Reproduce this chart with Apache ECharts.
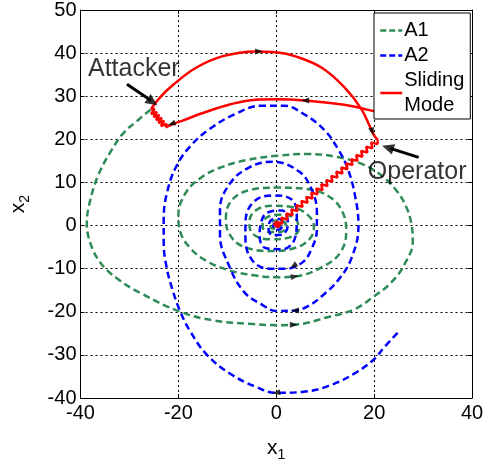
<!DOCTYPE html>
<html>
<head>
<meta charset="utf-8">
<script src="https://cdn.jsdelivr.net/npm/echarts/dist/echarts.min.js"></script>
<style>
  html, body { margin: 0; padding: 0; background: #ffffff; }
  #chart { width: 491px; height: 467px; }
</style>
</head>
<body>
<div id="chart"></div>
<script>
// Axis ranges: [min, max, step]
const X_RANGE = [-40, 40, 20];
const Y_RANGE = [-40, 50, 10];

// Phase trajectory under dynamics A1 (counter-clockwise spiral into the origin)
const a1Path = [
  [-25.7, 26.9], [-28.5, 24.2], [-31.1, 21.6], [-33.6, 17.6], [-36.4, 11.6], [-38.2, 5.0],
  [-38.7, 0.5], [-38.0, -4.0], [-36.0, -8.5], [-32.5, -12.3], [-27.5, -15.8], [-19.6, -20.0],
  [-12.9, -22.0], [-5.5, -22.8], [0.0, -23.1], [3.6, -23.0], [10.7, -21.2], [16.0, -19.4],
  [20.0, -16.4], [23.5, -13.2], [26.2, -9.0], [27.9, -3.7], [27.6, 0.5], [26.5, 4.5],
  [24.5, 8.2], [21.5, 11.6], [17.5, 14.3], [12.5, 15.9], [6.5, 16.6], [0.2, 16.2],
  [-6.0, 15.2], [-11.5, 13.4], [-15.5, 11.0], [-18.6, 7.4], [-20.0, 2.3], [-19.6, -1.5],
  [-17.6, -5.2], [-14.3, -8.2], [-9.6, -10.4], [-4.2, -11.6], [0.0, -12.0], [3.8, -11.8],
  [9.9, -9.3], [13.3, -5.9], [14.3, -1.0], [13.3, 3.7], [10.7, 6.8], [6.6, 8.4],
  [0.2, 8.8], [-5.5, 8.2], [-9.2, 5.7], [-10.3, 1.5], [-9.5, -2.1], [-6.9, -4.8],
  [-1.4, -5.9], [3.8, -5.2], [6.9, -3.0], [7.7, -0.3], [6.3, 2.6], [2.6, 4.4],
  [-0.8, 4.6], [-4.2, 3.5], [-5.5, 0.8], [-4.8, -1.9], [-1.4, -3.2], [2.6, -2.8],
  [4.6, -0.8], [3.6, 1.9], [0.2, 2.5], [-2.4, 1.5], [-2.8, -0.2], [-1.6, -1.5],
  [0.6, -1.5], [2.0, -0.4], [1.6, 0.9], [0.0, 1.2], [-1.2, 0.5], [-1.0, -0.6],
  [0.0, -0.7], [0.8, -0.1], [0.5, 0.5], [0.0, 0.4], [-0.3, 0.0], [0.0, -0.2]
];

// Phase trajectory under dynamics A2 (clockwise spiral into the origin)
const a2Path = [
  [24.8, -24.9], [22.0, -28.3], [20.0, -31.0], [16.0, -34.3], [10.7, -37.2], [5.3, -38.6],
  [0.0, -38.8], [-4.2, -37.4], [-9.5, -34.3], [-14.3, -29.8], [-17.6, -24.5], [-19.6, -20.0],
  [-21.2, -14.9], [-22.4, -9.7], [-23.0, -4.0], [-23.0, 1.5], [-22.2, 8.2], [-20.3, 14.0],
  [-17.5, 18.5], [-13.5, 22.5], [-8.5, 25.8], [-3.0, 27.8], [1.5, 27.8], [6.0, 25.6],
  [9.8, 22.2], [12.6, 17.8], [14.5, 13.5], [16.0, 7.5], [16.8, 0.0], [15.4, -7.5],
  [12.7, -12.6], [9.3, -16.4], [6.5, -18.7], [3.8, -19.7], [0.0, -19.8], [-3.0, -18.3],
  [-6.5, -15.5], [-9.5, -9.7], [-11.5, -2.1], [-11.5, 3.7], [-9.5, 9.7], [-5.5, 13.5],
  [-0.8, 14.8], [4.6, 12.6], [7.3, 8.2], [8.3, 3.0], [8.3, -0.8], [7.3, -5.2],
  [5.3, -8.6], [1.8, -10.0], [-1.4, -10.0], [-4.8, -8.2], [-6.3, -3.0], [-6.3, 0.3],
  [-4.8, 5.3], [-0.8, 7.0], [3.2, 6.0], [4.2, 1.5], [3.8, -3.0], [1.2, -5.5],
  [-2.2, -5.2], [-3.4, -2.5], [-3.2, 0.3], [-1.8, 3.0], [1.2, 3.5], [2.4, 0.3],
  [1.2, -2.1], [-0.8, -2.2], [-1.6, -0.5], [-0.8, 1.4], [0.8, 1.5], [1.2, 0.0],
  [0.4, -1.0], [-0.6, -0.6], [-0.5, 0.4], [0.3, 0.6], [0.4, -0.2], [0.0, -0.3]
];

// Sliding-mode trajectory, in four consecutive pieces
const slideApproach = [
  [24.8, 25.0], [20.0, 26.5], [13.9, 28.0], [5.9, 29.0], [0.0, 29.3], [-4.2, 29.2],
  [-9.5, 28.1], [-15.0, 26.1], [-19.0, 24.4], [-21.0, 23.6], [-22.6, 22.8]
];
const slideAttackChatter = [
  [-22.6, 22.8], [-22.38, 23.57], [-23.57, 23.08], [-22.88, 24.27], [-24.07, 23.78],
  [-23.38, 24.97], [-24.57, 24.48], [-23.88, 25.67], [-25.07, 25.18], [-24.38, 26.37],
  [-25.57, 25.88], [-24.88, 27.07], [-25.6, 27.0]
];
const slideArc = [
  [-25.6, 27.0], [-23.7, 29.8], [-21.0, 32.7], [-16.4, 36.6], [-10.9, 39.3], [-4.2, 40.4],
  [0.0, 40.2], [3.8, 39.3], [9.3, 36.6], [13.9, 32.1], [17.4, 27.0], [20.0, 20.9], [20.8, 19.8]
];
const slideOperatorChatter = [
  [20.8, 19.8], [20.67, 18.88], [19.40, 19.27], [19.65, 17.91], [18.38, 18.30], [18.63, 16.94],
  [17.36, 17.33], [17.61, 15.97], [16.34, 16.36], [16.59, 15.00], [15.32, 15.39], [15.57, 14.03],
  [14.30, 14.42], [14.55, 13.06], [13.28, 13.45], [13.53, 12.09], [12.26, 12.48], [12.51, 11.12],
  [11.24, 11.51], [11.49, 10.15], [10.22, 10.54], [10.47, 9.18], [9.20, 9.57], [9.45, 8.21],
  [8.18, 8.60], [8.43, 7.24], [7.16, 7.63], [7.41, 6.27], [6.14, 6.66], [6.39, 5.30],
  [5.12, 5.69], [5.37, 4.33], [4.10, 4.72], [4.35, 3.36], [3.08, 3.75], [3.33, 2.39],
  [2.06, 2.78], [2.31, 1.42], [1.04, 1.81], [1.29, 0.45], [0.02, 0.84],
  [0.9, 0.1], [-0.2, 0.9], [0.7, -0.3], [-0.5, 0.5], [0.3, -0.4], [-0.4, 0.2], [0.2, 0.3], [0.0, 0.0]
];

// Direction markers along the trajectories: [x1, x2, heading in degrees (0 = up, counter-clockwise)]
const flowArrows = [
  [-3.5, 40.4, -90], [19.6, 21.8, 195], [5.9, 29.0, 90], [-21.4, 23.6, 110],
  [3.6, -23.0, -90], [3.8, -11.8, -80],
  [3.8, -19.7, 90], [3.5, -9.4, 125], [0.0, -38.8, 100]
];

// Callout labels, the shafts pointing from them, and the arrowheads at their tips
const calloutNames = ['Attacker', 'Operator'];
const calloutTextAt = [[-29.1, 36.2], [28.8, 12.3]];
const calloutShafts = [
  [[-30.5, 32.8], [-25.6, 29.0]],
  [[29.1, 15.8], [23.3, 17.9]]
];
const calloutHeads = [[-25.3, 28.7, -125], [22.8, 18.1, 72]];

const FONT = 'Liberation Sans, Arial, Helvetica, sans-serif';
const GREEN = '#2e8b57';
const BLUE = '#0000ff';
const RED = '#ff0000';

const chart = echarts.init(document.getElementById('chart'), null, { renderer: 'canvas' });

function boxAxis(kind, position, range, showLabels, extra) {
  return Object.assign({
    type: 'value',
    position: position,
    min: range[0], max: range[1], interval: range[2],
    axisLine: { show: true, onZero: false, lineStyle: { color: '#000', width: 1 } },
    axisTick: { show: true, inside: true, length: 4, lineStyle: { color: '#000' } },
    axisLabel: showLabels
      ? { show: true, color: '#000', fontSize: 20, fontFamily: FONT, margin: kind === 'x' ? 5 : 4 }
      : { show: false },
    splitLine: showLabels
      ? { show: true, lineStyle: { color: '#000', type: [2, 3], width: 1 } }
      : { show: false }
  }, extra || {});
}

const redBase = {
  type: 'line', name: 'Sliding Mode', showSymbol: false, symbol: 'none',
  lineStyle: { color: RED, width: 2.5 }, itemStyle: { color: RED }, z: 4
};

const shaftSeries = calloutShafts.map(function (seg) {
  return {
    type: 'line', name: 'callout', data: seg, showSymbol: false, symbol: 'none',
    lineStyle: { color: '#000', width: 3 }, itemStyle: { color: '#000' }, z: 7, silent: true
  };
});

chart.setOption({
  animation: false,
  backgroundColor: '#ffffff',
  textStyle: { fontFamily: FONT },
  grid: { left: 76, right: 19, top: 10, bottom: 55, containLabel: false },
  legend: {
    data: [
      { name: 'A1', lineStyle: { color: GREEN, width: 2.5, type: [6, 3] } },
      { name: 'A2', lineStyle: { color: BLUE, width: 2.5, type: [6, 3] } },
      { name: 'Sliding Mode', lineStyle: { color: RED, width: 2.5, type: 'solid' } }
    ],
    orient: 'vertical',
    left: 374, top: 13,
    backgroundColor: '#ffffff',
    borderColor: '#000', borderWidth: 1, borderRadius: 0,
    padding: [5, 6, 1, 5],
    itemGap: 0,
    itemWidth: 22, itemHeight: 14,
    itemStyle: { opacity: 0 },
    textStyle: { color: '#000', fontSize: 20, fontFamily: FONT, lineHeight: 25, padding: [0, 0, 0, -3] },
    formatter: function (name) { return name === 'Sliding Mode' ? 'Sliding\nMode' : name; },
    selectedMode: false,
    z: 10
  },
  xAxis: [
    boxAxis('x', 'bottom', X_RANGE, true, {
      name: '{v|x}{s|1}', nameLocation: 'middle', nameGap: 36,
      nameTextStyle: {
        rich: {
          v: { fontSize: 21, fontFamily: FONT, color: '#000', lineHeight: 28, verticalAlign: 'middle' },
          s: { fontSize: 14, fontFamily: FONT, color: '#000', lineHeight: 28, verticalAlign: 'bottom' }
        }
      }
    }),
    boxAxis('x', 'top', X_RANGE, false)
  ],
  yAxis: [
    boxAxis('y', 'left', Y_RANGE, true, {
      name: '{v|x}{s|2}', nameLocation: 'middle', nameGap: 48, nameRotate: 90,
      nameTextStyle: {
        rich: {
          v: { fontSize: 21, fontFamily: FONT, color: '#000', lineHeight: 28, verticalAlign: 'middle' },
          s: { fontSize: 14, fontFamily: FONT, color: '#000', lineHeight: 28, verticalAlign: 'bottom' }
        }
      }
    }),
    boxAxis('y', 'right', Y_RANGE, false)
  ],
  series: [
    {
      type: 'line', name: 'A1', data: a1Path, smooth: 0.4,
      showSymbol: false, symbol: 'none',
      lineStyle: { color: GREEN, width: 2.5, type: [7, 4] }, itemStyle: { color: GREEN }, z: 2
    },
    {
      type: 'line', name: 'A2', data: a2Path, smooth: 0.4,
      showSymbol: false, symbol: 'none',
      lineStyle: { color: BLUE, width: 2.5, type: [7, 4] }, itemStyle: { color: BLUE }, z: 3
    },
    Object.assign({}, redBase, { data: slideApproach, smooth: 0.4 }),
    Object.assign({}, redBase, { data: slideAttackChatter, smooth: false }),
    Object.assign({}, redBase, { data: slideArc, smooth: 0.4 }),
    Object.assign({}, redBase, { data: slideOperatorChatter, smooth: false }),
    {
      type: 'scatter', name: 'flow', data: flowArrows,
      symbol: 'triangle', symbolSize: [6, 8],
      symbolRotate: function (v) { return v[2]; },
      itemStyle: { color: '#000' }, z: 6, silent: true
    }
  ].concat(shaftSeries, [
    {
      type: 'scatter', name: 'calloutHeads', data: calloutHeads,
      symbol: 'triangle', symbolSize: [11, 12],
      symbolRotate: function (v) { return v[2]; },
      itemStyle: { color: '#000' }, z: 7, silent: true
    },
    {
      type: 'scatter', name: 'callouts',
      data: calloutNames.map(function (n, i) { return { name: n, value: calloutTextAt[i] }; }),
      symbolSize: 1, itemStyle: { color: 'rgba(0,0,0,0)' },
      label: {
        show: true, position: 'inside', formatter: '{b}',
        color: '#000', fontSize: 25, fontFamily: FONT
      },
      z: 8, silent: true
    }
  ])
});
</script>
</body>
</html>
